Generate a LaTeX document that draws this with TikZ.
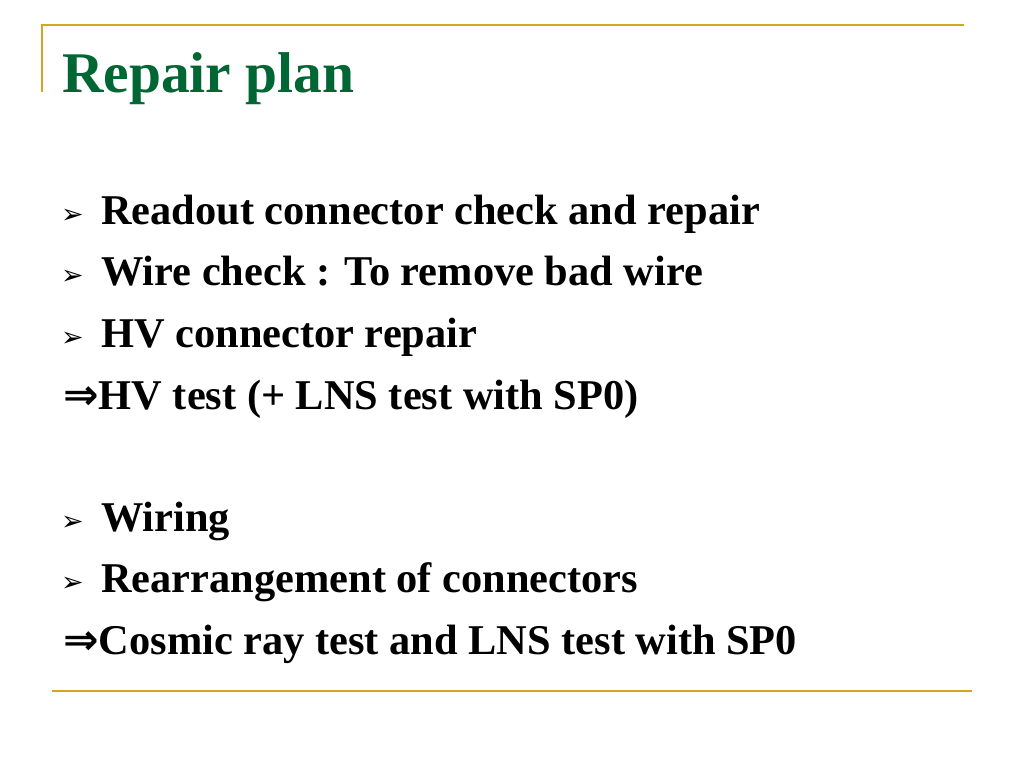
\documentclass[tikz,border=0pt]{standalone}
\usepackage{fontspec}
\setmainfont{Liberation Serif}
\newfontfamily\symfont{DejaVu Sans}
\definecolor{rulegold}{RGB}{212,166,38}
\definecolor{titlegreen}{RGB}{0,102,51}
\tikzset{
  rule/.style={rulegold, line width=2.5pt},
  heading/.style={anchor=base west, inner sep=0pt, text=titlegreen,
    font=\fontsize{57.5}{69}\selectfont\bfseries},
  item/.style={anchor=base west, inner sep=0pt,
    font=\fontsize{42.4}{51}\selectfont\bfseries},
  bulletglyph/.style={anchor=base west, inner sep=0pt,
    font=\symfont\fontsize{27}{32}\selectfont}
}
\begin{document}
\begin{tikzpicture}[x=1pt,y=-1pt]
    \useasboundingbox (0,0) rectangle (1024,768);
    % frame lines
    \draw[rule] (42,92) -- (42,25) -- (964,25);
    \draw[rule] (52,691) -- (972,691);
    \node[heading] (title) at (62,92) {Repair plan};
    % bullet items
    \foreach \y/\txt [count=\i] in {224/{Readout connector check and repair},
                                    285/{Wire check : To remove bad wire},
                                    347/{HV connector repair},
                                    531/{Wiring},
                                    592/{Rearrangement of connectors}} {
      \node[bulletglyph] (b\i) at (61,\y-1) {➢};
      \node[item] (t\i) at (101,\y) {\txt};
    }
    % results
    \node[item] (r1) at (63,409) {{\symfont ⇒}HV test (+ LNS test with SP0)};
    \node[item] (r2) at (63,654) {{\symfont ⇒}Cosmic ray test and LNS test with SP0};
\end{tikzpicture}
\end{document}
